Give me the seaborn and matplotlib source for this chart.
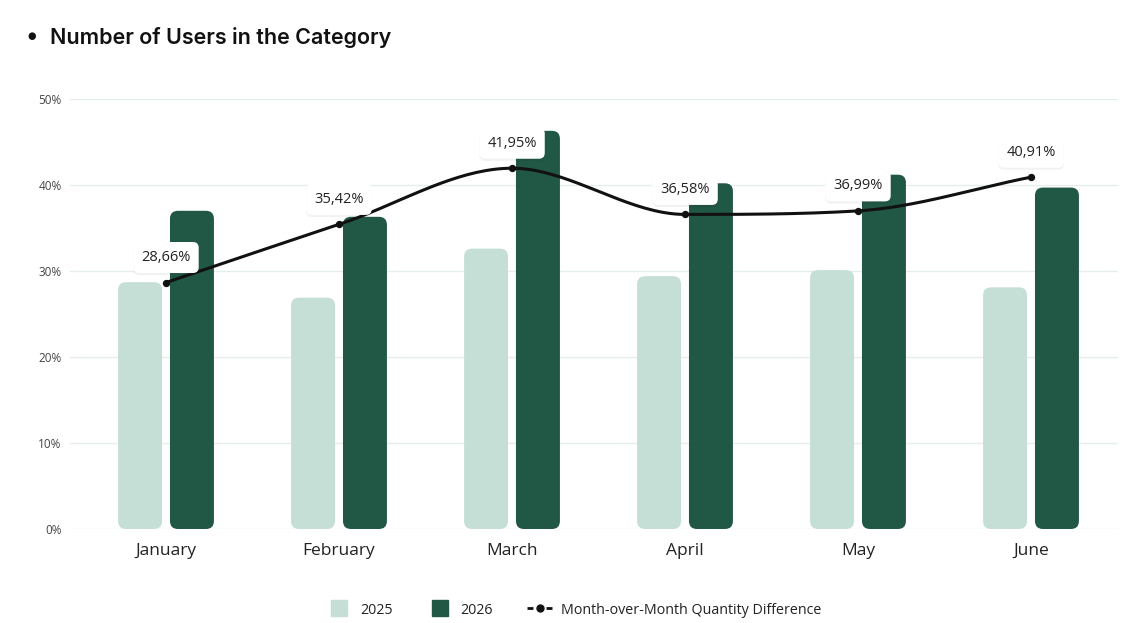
import numpy as np
import pandas as pd
import matplotlib
matplotlib.use("Agg")
import matplotlib.pyplot as plt
import seaborn as sns
from matplotlib.patches import FancyBboxPatch
from matplotlib.lines import Line2D
import matplotlib.patheffects as pe

months = ["January", "February", "March", "April", "May", "June"]
users_2025 = [28.7, 26.9, 32.6, 29.4, 30.1, 28.1]
users_2026 = [37.0, 36.3, 46.3, 40.2, 41.2, 39.7]
mom_diff = [28.66, 35.42, 41.95, 36.58, 36.99, 40.91]
mom_labels = ["28,66%", "35,42%", "41,95%", "36,58%", "36,99%", "40,91%"]
y_ticks = [0, 10, 20, 30, 40, 50]
y_tick_labels = ["0%", "10%", "20%", "30%", "40%", "50%"]

C25 = "#C5DFD6"
C26 = "#215745"

df = pd.DataFrame({
    "month": months * 2,
    "year": ["2025"] * 6 + ["2026"] * 6,
    "value": users_2025 + users_2026,
})

sns.set_theme(style="white")
plt.rcParams["font.family"] = ["Open Sans", "DejaVu Sans"]

W, H = 1148, 623
fig = plt.figure(figsize=(W / 100, H / 100), dpi=100)
ax = fig.add_axes([70 / W, (H - 529) / H, (1118 - 70) / W, (529 - 99) / H])

sns.barplot(data=df, x="month", y="value", hue="year", order=months,
            hue_order=["2025", "2026"], palette=[C25, C26], saturation=1,
            width=0.6, gap=0.153, ax=ax, legend=False, zorder=2)

ax.set_xlim(-(166 - 70) / 173, 5 + (1118 - 1031) / 173)
ax.set_ylim(0, 50)

# rounded bars
rx = 8 / 173
ry = 8 / 8.6
for p in list(ax.patches):
    x0, y0 = p.get_x(), p.get_y()
    w, h = p.get_width(), p.get_height()
    fc = p.get_facecolor()
    p.remove()
    fb = FancyBboxPatch((x0, y0), w, h,
                        boxstyle=f"round,pad=0,rounding_size={rx}",
                        mutation_aspect=ry / rx, facecolor=fc,
                        edgecolor="none", zorder=2)
    ax.add_patch(fb)

# monotone cubic curve through the points
xs = np.arange(len(mom_diff), dtype=float)
ys = np.array(mom_diff, dtype=float)
d = np.diff(ys)
m = np.zeros_like(ys)
m[0], m[-1] = d[0], d[-1]
for k in range(1, len(ys) - 1):
    if d[k - 1] * d[k] <= 0:
        m[k] = 0
    else:
        m[k] = (d[k - 1] + d[k]) / 2
for k in range(len(d)):
    if d[k] == 0:
        m[k] = m[k + 1] = 0
        continue
    a, b = m[k] / d[k], m[k + 1] / d[k]
    s = a * a + b * b
    if s > 9:
        t = 3 / np.sqrt(s)
        m[k] = t * a * d[k]
        m[k + 1] = t * b * d[k]
cx, cy = [], []
for k in range(len(d)):
    t = np.linspace(0, 1, 40)
    h00 = 2 * t**3 - 3 * t**2 + 1
    h10 = t**3 - 2 * t**2 + t
    h01 = -2 * t**3 + 3 * t**2
    h11 = t**3 - t**2
    cx.extend(xs[k] + t)
    cy.extend(h00 * ys[k] + h10 * m[k] + h01 * ys[k + 1] + h11 * m[k + 1])
ax.plot(cx, cy, color="#111111", lw=2.2, zorder=4, solid_capstyle="round")
ax.scatter(xs, ys, s=28, color="#111111", zorder=5, linewidths=0)

for xi, yi, lab in zip(xs, ys, mom_labels):
    t = ax.annotate(lab, (xi, yi), xytext=(0, 18), textcoords="offset points",
                    ha="center", va="center", fontsize=10.5, color="#222222",
                    zorder=6,
                    bbox=dict(boxstyle="round,pad=0.55,rounding_size=0.4",
                              fc="white", ec="none"))
    t.get_bbox_patch().set_path_effects([
        pe.SimplePatchShadow(offset=(0, -1.5), shadow_rgbFace="#000000", alpha=0.05),
        pe.Normal()])

ax.set_yticks(y_ticks)
ax.set_yticklabels(y_tick_labels)
ax.yaxis.grid(True, color="#E6EEEB", lw=1, zorder=0)
ax.set_axisbelow(True)
ax.tick_params(axis="y", labelsize=8.5, colors="#444444", length=0, pad=6)
ax.tick_params(axis="x", labelsize=12.5, colors="#222222", length=0, pad=10)
ax.set_xlabel("")
ax.set_ylabel("")
for s in ax.spines.values():
    s.set_visible(False)

# title
fig.text(27 / W, 1 - 37 / H, "●", fontsize=7, color="#111111", va="center", ha="left")
fig.text(50 / W, 1 - 37 / H, "Number of Users in the Category", fontsize=15.5,
         fontweight="semibold", color="#111111", va="center", ha="left",
         family=["Inter", "DejaVu Sans"])

handles = [
    Line2D([], [], marker="s", ls="none", markersize=11, color=C25),
    Line2D([], [], marker="s", ls="none", markersize=11, color=C26),
    Line2D([], [], marker="o", ls=(0, (2.15, 4.7)), lw=2, markersize=5,
           color="#111111", dash_capstyle="butt"),
]
fig.legend(handles, ["2025", "2026", "Month-over-Month Quantity Difference"],
           loc="center", bbox_to_anchor=(0.5, 1 - 610 / H), ncol=3,
           frameon=False, fontsize=10.3, handlelength=1.75, columnspacing=2.4,
           handletextpad=0.6, labelcolor="#222222", numpoints=1)

fig.savefig("out.png", dpi=100)
